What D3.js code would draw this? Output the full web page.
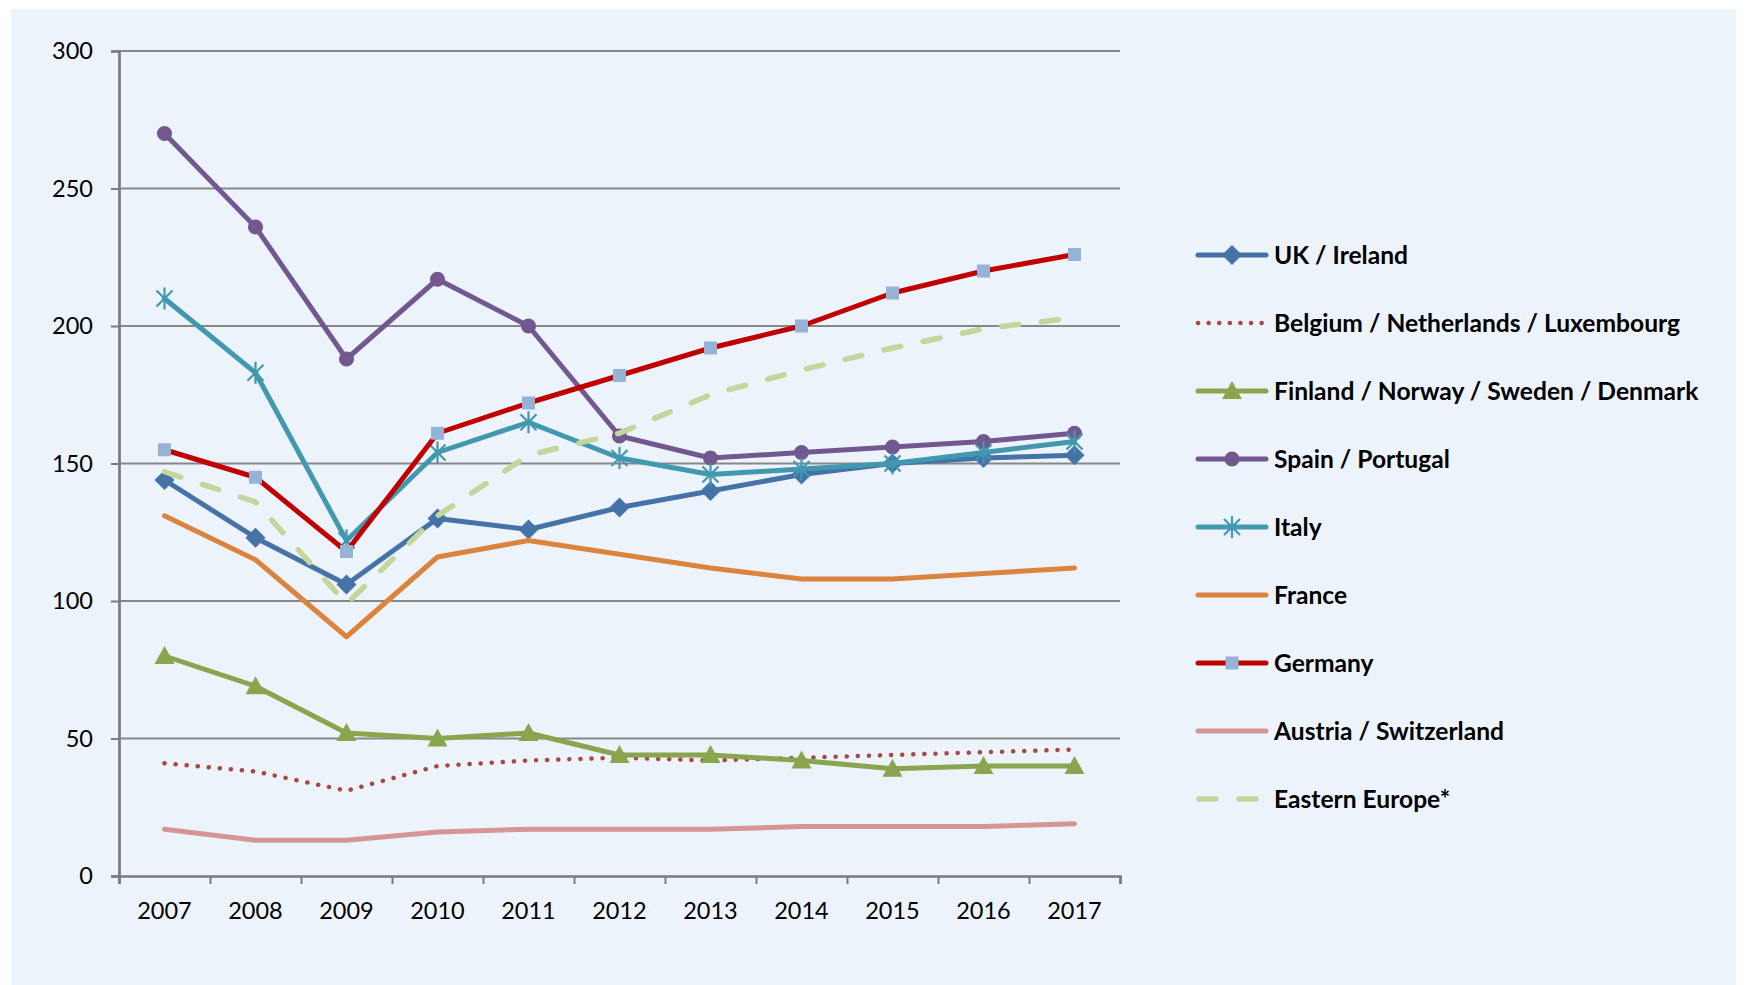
<!DOCTYPE html>
<html>
<head>
<meta charset="utf-8">
<script src="https://cdn.jsdelivr.net/npm/d3@7"></script>
<style>
  body { margin: 0; background: #ffffff; }
  svg { display: block; font-family: Lato, "Open Sans", sans-serif; }
</style>
</head>
<body>
<svg id="chart" width="1747" height="985"></svg>
<script>
const years = ["2007", "2008", "2009", "2010", "2011", "2012", "2013", "2014", "2015", "2016", "2017"];
const yTicks = [0, 50, 100, 150, 200, 250, 300];

const ukIreland = [144, 123, 106, 130, 126, 134, 140, 146, 150, 152, 153];
const benelux = [41, 38, 31, 40, 42, 43, 42, 43, 44, 45, 46];
const nordics = [80, 69, 52, 50, 52, 44, 44, 42, 39, 40, 40];
const spainPortugal = [270, 236, 188, 217, 200, 160, 152, 154, 156, 158, 161];
const italy = [210, 183, 122, 154, 165, 152, 146, 148, 150, 154, 158];
const france = [131, 115, 87, 116, 122, 117, 112, 108, 108, 110, 112];
const germany = [155, 145, 118, 161, 172, 182, 192, 200, 212, 220, 226];
const austriaSwiss = [17, 13, 13, 16, 17, 17, 17, 18, 18, 18, 19];
const easternEurope = [147, 136, 99, 131, 153, 161, 175, 184, 192, 199, 203];

const series = [
  { name: "UK / Ireland", values: ukIreland, color: "#4572A7", marker: "diamond", mfill: "#4572A7" },
  { name: "Belgium / Netherlands / Luxembourg", values: benelux, color: "#AA4643", dash: "0.1 11", width: 4.5 },
  { name: "Finland / Norway / Sweden / Denmark", values: nordics, color: "#89A54E", marker: "triangle", mfill: "#89A54E" },
  { name: "Spain / Portugal", values: spainPortugal, color: "#71588F", marker: "circle", mfill: "#71588F" },
  { name: "Italy", values: italy, color: "#4198AF", marker: "star", mfill: "#4198AF" },
  { name: "France", values: france, color: "#DB843D" },
  { name: "Germany", values: germany, color: "#C00000", marker: "square", mfill: "#95B3D7" },
  { name: "Austria / Switzerland", values: austriaSwiss, color: "#D59595" },
  { name: "Eastern Europe*", values: easternEurope, color: "#C3D69B", dash: "17 23", width: 5.5 }
];

const svg = d3.select("svg#chart");

// light blue panel
svg.append("rect")
  .attr("x", 11).attr("y", 9)
  .attr("width", 1725).attr("height", 976)
  .attr("fill", "#EDF3FB");

const x = d3.scaleBand().domain(years).range([119, 1120]);
const xEdge = d3.scaleLinear().domain([0, years.length]).range([119, 1120]);
const y = d3.scaleLinear().domain([0, 300]).range([876, 51]);

// gridlines
svg.append("g")
  .selectAll("line")
  .data(yTicks.filter(d => d > 0))
  .enter()
  .append("line")
  .attr("x1", 119).attr("x2", 1120)
  .attr("y1", d => y(d)).attr("y2", d => y(d))
  .attr("stroke", "#878787")
  .attr("stroke-width", 1.8);

// y axis
let yAxis = svg.append("g")
  .attr("transform", "translate(119,0)")
  .call(d3.axisLeft(y).tickValues(yTicks).tickSize(8).tickPadding(18));
yAxis.select(".domain").attr("stroke", "#7A7A7A").attr("stroke-width", 2.7);
yAxis.selectAll(".tick line").attr("stroke", "#7A7A7A").attr("stroke-width", 2);
yAxis.selectAll(".tick text")
  .attr("fill", "#000")
  .style("font-size", "23.5px")
  .style("font-family", "Lato, sans-serif");

// x axis: ticks on category edges, labels at centres
let xTickAxis = svg.append("g")
  .attr("transform", "translate(0,876)")
  .call(d3.axisBottom(xEdge).tickValues(d3.range(years.length + 1)).tickSize(8).tickFormat(""));
xTickAxis.select(".domain").attr("stroke", "#7A7A7A").attr("stroke-width", 2.7);
xTickAxis.selectAll(".tick line").attr("stroke", "#7A7A7A").attr("stroke-width", 2);

let xLabelAxis = svg.append("g")
  .attr("transform", "translate(0,876)")
  .call(d3.axisBottom(x).tickSize(0).tickPadding(26));
xLabelAxis.select(".domain").remove();
xLabelAxis.selectAll(".tick text")
  .attr("fill", "#000")
  .style("font-size", "23.5px")
  .style("font-family", "Lato, sans-serif");

function markerPath(type) {
  if (type === "diamond") return "M0,-10L10,0L0,10L-10,0Z";
  if (type === "triangle") return "M0,-10L10,8L-10,8Z";
  if (type === "square") return "M-6.5,-6.5H6.5V6.5H-6.5Z";
  if (type === "circle") return d3.symbol(d3.symbolCircle, 180)();
  if (type === "star") return "M-8,-8L8,8M8,-8L-8,8M0,-11V11";
  return null;
}

function drawMarker(g, s, cx, cy) {
  if (!s.marker) return;
  let p = g.append("path")
    .attr("transform", `translate(${cx},${cy})`)
    .attr("d", markerPath(s.marker));
  if (s.marker === "star") {
    p.attr("fill", "none").attr("stroke", s.mfill).attr("stroke-width", 2.2);
  } else {
    p.attr("fill", s.mfill);
  }
}

const line = d3.line()
  .x((d, i) => x(years[i]) + x.bandwidth() / 2)
  .y(d => y(d));

const plot = svg.append("g");
series.forEach(s => {
  const g = plot.append("g");
  g.append("path")
    .datum(s.values)
    .attr("d", line)
    .attr("fill", "none")
    .attr("stroke", s.color)
    .attr("stroke-width", s.width || 5)
    .attr("stroke-linejoin", "round")
    .attr("stroke-linecap", "round")
    .attr("stroke-dasharray", s.dash || null);
  s.values.forEach((v, i) => drawMarker(g, s, x(years[i]) + x.bandwidth() / 2, y(v)));
});

// legend
const legend = svg.append("g");
series.forEach((s, i) => {
  const cy = 255 + i * 68;
  const g = legend.append("g");
  if (s.dash === "0.1 11") {
    g.append("line")
      .attr("x1", 1198).attr("x2", 1262)
      .attr("y1", cy).attr("y2", cy)
      .attr("stroke", s.color).attr("stroke-width", 4.5)
      .attr("stroke-linecap", "round")
      .attr("stroke-dasharray", "0.1 10.5");
  } else if (s.dash) {
    g.append("line")
      .attr("x1", 1199).attr("x2", 1266)
      .attr("y1", cy).attr("y2", cy)
      .attr("stroke", s.color).attr("stroke-width", 5.5)
      .attr("stroke-linecap", "round")
      .attr("stroke-dasharray", s.dash);
  } else {
    g.append("line")
      .attr("x1", 1198).attr("x2", 1266)
      .attr("y1", cy).attr("y2", cy)
      .attr("stroke", s.color).attr("stroke-width", 5)
      .attr("stroke-linecap", "round");
  }
  drawMarker(g, s, 1232, cy);
  g.append("text")
    .attr("x", 1274).attr("y", cy)
    .attr("dy", "0.36em")
    .style("font-size", "24.6px")
    .style("font-weight", "bold")
    .style("font-family", "Lato, sans-serif")
    .attr("fill", "#000")
    .text(s.name);
});
</script>
</body>
</html>
